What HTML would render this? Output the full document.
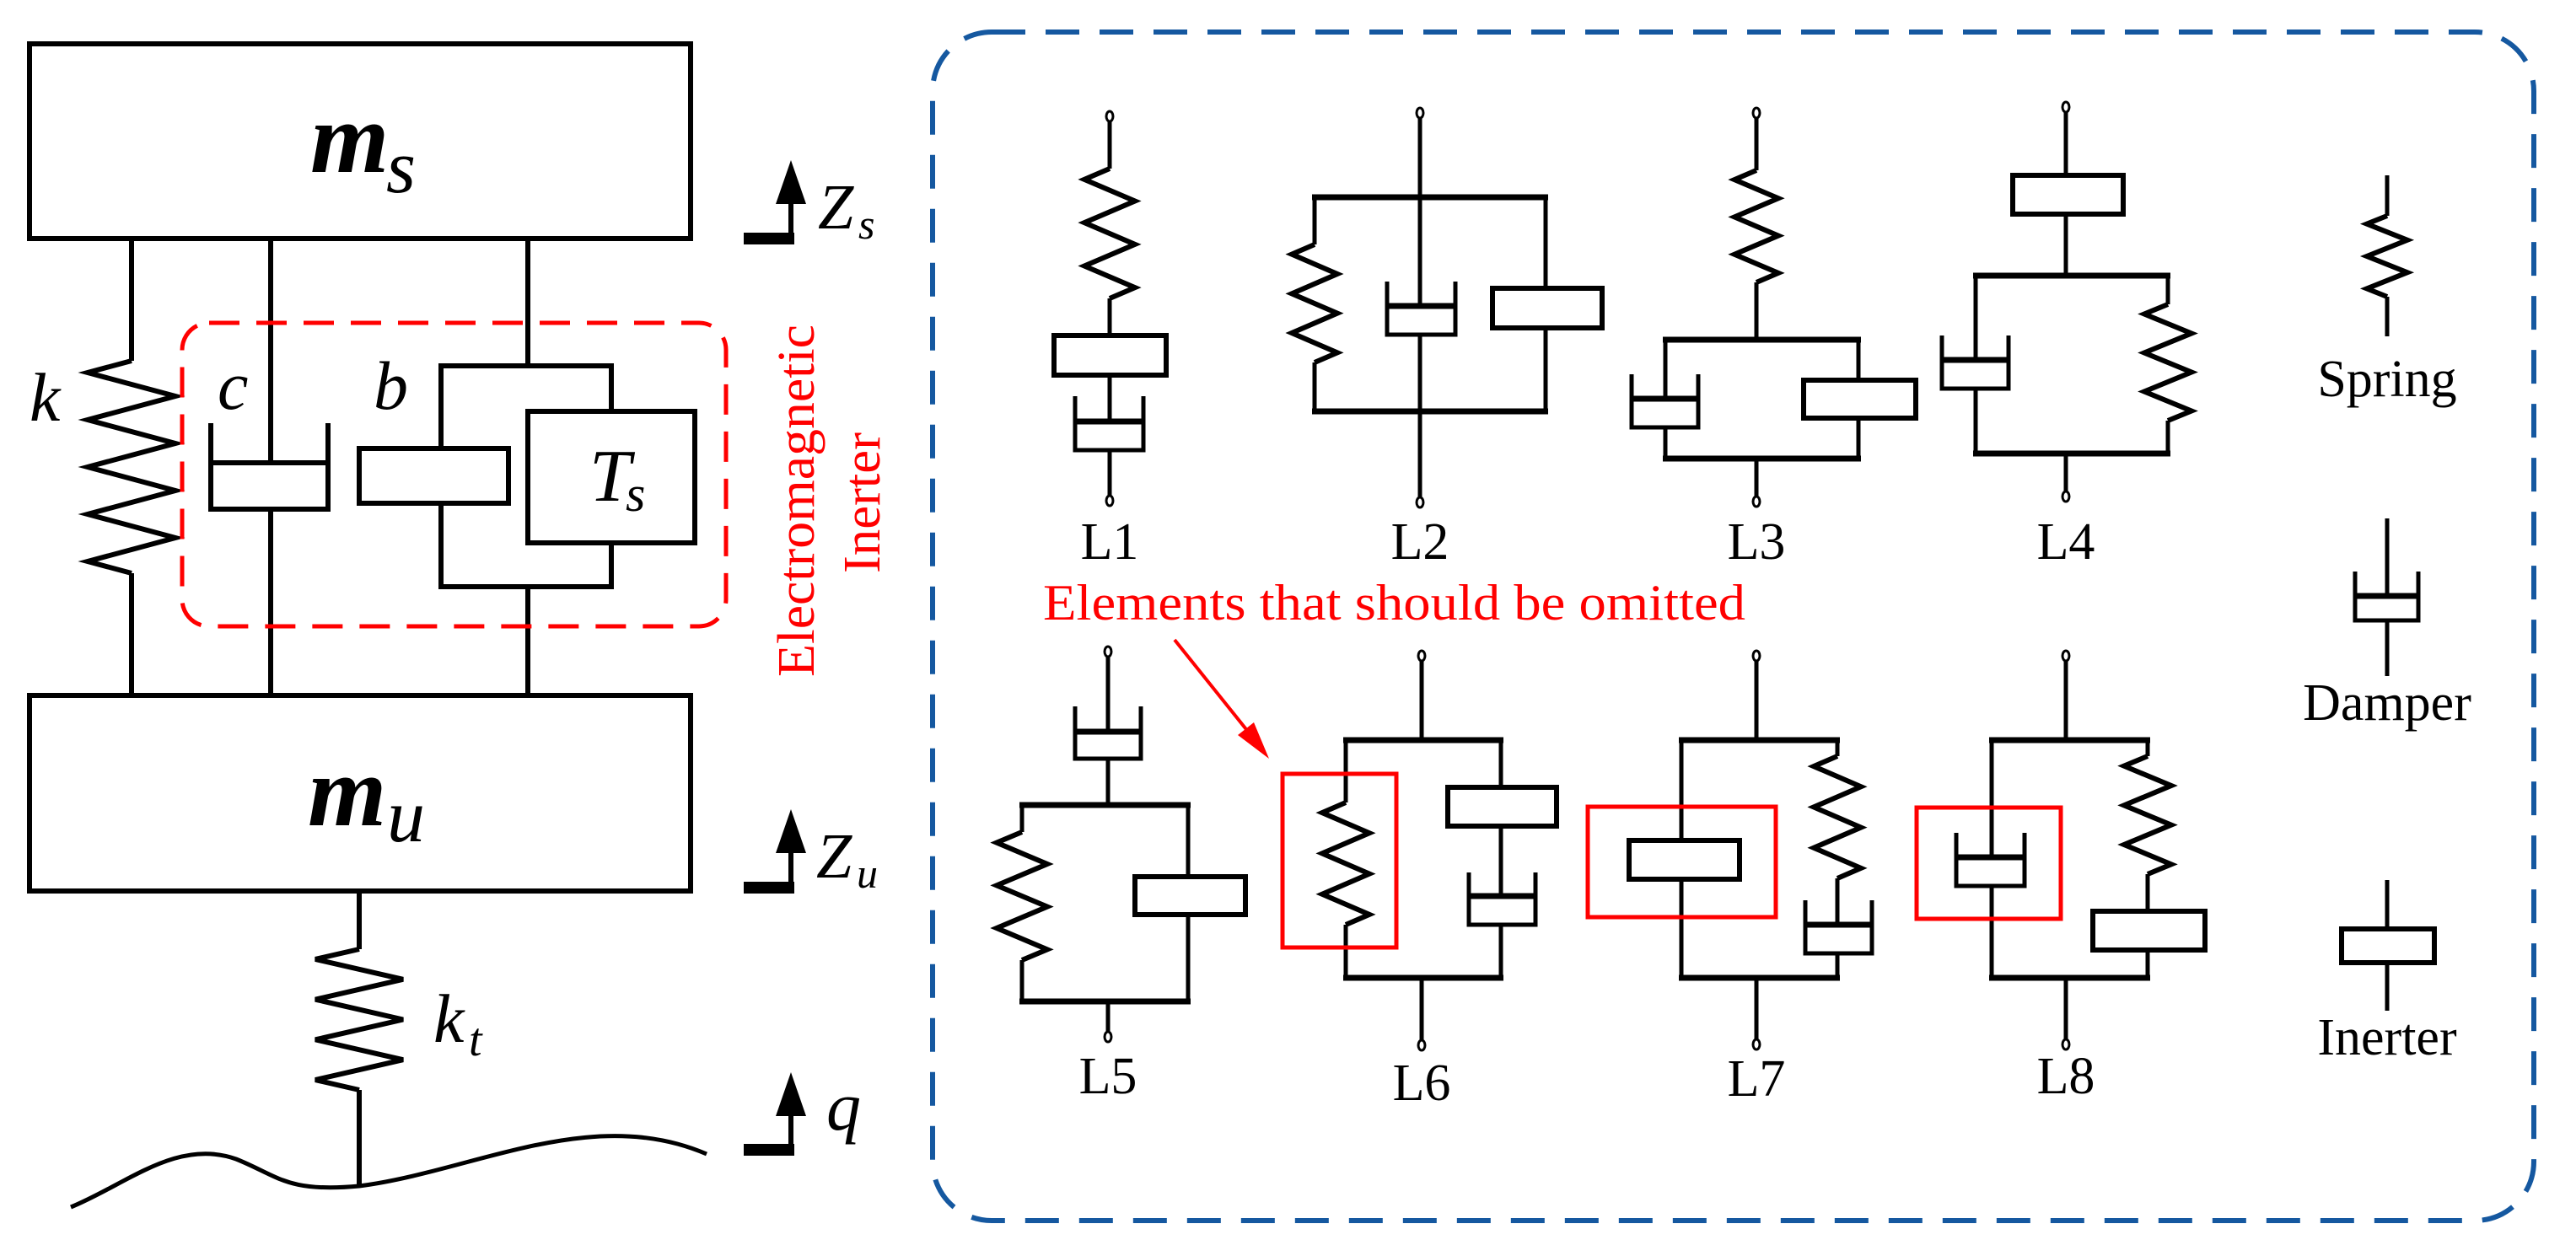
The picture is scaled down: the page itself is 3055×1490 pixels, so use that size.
<!DOCTYPE html>
<html><head><meta charset="utf-8"><style>
html,body{margin:0;padding:0;background:#fff;}
svg{display:block;}
text{font-family:"Liberation Serif",serif;}
</style></head><body>
<svg id="s" xmlns="http://www.w3.org/2000/svg" width="3055" height="1490" viewBox="0 0 3055 1490">
<rect width="3055" height="1490" fill="#fff"/>
<g id="g" fill="none" stroke="#000" stroke-width="6" stroke-linejoin="miter"></g>
<!-- left labels -->
<g font-style="italic" fill="#000">
<text x="368" y="204" font-size="120" font-weight="bold">m</text>
<text x="458" y="228" font-size="90">s</text>
<text x="365" y="979" font-size="120" font-weight="bold">m</text>
<text x="459" y="998" font-size="90">u</text>
<text x="699" y="594" font-size="88">T</text>
<text x="742" y="606" font-size="60">s</text>
<text x="35" y="499" font-size="82">k</text>
<text x="258" y="485" font-size="82">c</text>
<text x="443" y="485" font-size="82">b</text>
<text x="514" y="1236" font-size="82">k</text>
<text x="556" y="1252" font-size="56">t</text>
<text x="970" y="271" font-size="76">Z</text>
<text x="1018" y="283" font-size="50">s</text>
<text x="968" y="1041" font-size="76">Z</text>
<text x="1016" y="1053" font-size="50">u</text>
<text x="980" y="1340" font-size="82">q</text>
</g>
<g fill="#f00" font-size="62">
<text transform="translate(965,803) rotate(-90)" textLength="418" lengthAdjust="spacingAndGlyphs">Electromagnetic</text>
<text transform="translate(1043,680) rotate(-90)" textLength="167" lengthAdjust="spacingAndGlyphs">Inerter</text>
<text x="1237" y="735" font-size="60" textLength="833" lengthAdjust="spacingAndGlyphs">Elements that should be omitted</text>
</g>
<g fill="#000" font-size="62" text-anchor="middle">
<text x="1316" y="663">L1</text>
<text x="1684" y="663">L2</text>
<text x="2083" y="663">L3</text>
<text x="2450" y="663">L4</text>
<text x="1314" y="1297">L5</text>
<text x="1686" y="1305">L6</text>
<text x="2083" y="1300">L7</text>
<text x="2450" y="1297">L8</text>
<text x="2831" y="470">Spring</text>
<text x="2831" y="854">Damper</text>
<text x="2831" y="1251">Inerter</text>
</g>
</svg>
<script>
var G=document.getElementById('g');var NS='http://www.w3.org/2000/svg';
function el(t,a){var e=document.createElementNS(NS,t);for(var k in a)e.setAttribute(k,a[k]);G.appendChild(e);return e;}
function L(x1,y1,x2,y2,w,c){el('line',{x1:x1,y1:y1,x2:x2,y2:y2,'stroke-width':w||5,stroke:c||'#000'});}
function B(x1,y1,x2,y2,w){el('rect',{x:x1,y:y1,width:x2-x1,height:y2-y1,fill:'#fff','stroke-width':w||6});}
function R(x1,y1,x2,y2){el('rect',{x:x1,y:y1,width:x2-x1,height:y2-y1,fill:'none',stroke:'#f00','stroke-width':5});}
function D(x1,x2,yt,yp,yb,w){w=w||5;el('rect',{x:x1,y:yp,width:x2-x1,height:yb-yp,fill:'#fff','stroke-width':w});L(x1,yt,x1,yb,w);L(x2,yt,x2,yb,w);L(x1,yp,x2,yp,w+2);}
function S(cx,y0,y1,hw,m,w){var p='M'+cx+','+y0;for(var i=0;i<m;i++){var y=y0+(i+0.5)*(y1-y0)/m;var x=(i%2==0)?cx-hw:cx+hw;p+=' L'+x+','+y;}p+=' L'+cx+','+y1;el('path',{d:p,'stroke-width':w||6});}
function T(cx,y){el('ellipse',{cx:cx,cy:y,rx:4,ry:6,fill:'#fff','stroke-width':3});}
function F(x1,y1,x2,y2){L(x1-3,y1,x2+3,y1,7);L(x1-3,y2,x2+3,y2,7);}
// ===== left panel =====
B(35,52,819,283,6);B(35,825,819,1057,6);
L(156,283,156,428,6);S(156,428,680,52,9,6);L(156,680,156,825,6);
L(321,283,321,549,6);L(321,604,321,825,6);
el('polyline',{points:'250,502 250,604 389,604 389,502','stroke-width':6});L(250,549,389,549,6);
L(626,283,626,434,6);L(626,696,626,825,6);
el('polyline',{points:'523,532 523,434 725,434 725,488','stroke-width':6,fill:'none'});
el('polyline',{points:'523,597 523,696 725,696 725,644','stroke-width':6,fill:'none'});
B(426,532,603,597,6);B(626,488,824,644,6);
L(426,1057,426,1126,6);S(426,1126,1293,52,7,6);L(426,1293,426,1405,6);
el('path',{d:'M84,1432 C150,1405 210,1350 280,1375 C330,1395 340,1415 426,1407 C560,1390 700,1310 838,1369','stroke-width':5});
// red dashed
el('rect',{x:216,y:383,width:645,height:360,rx:32,ry:32,stroke:'#f00','stroke-width':5,'stroke-dasharray':'36 20',fill:'none'});
// arrows Z
function A(yb,tip){L(882,yb,942,yb,14);L(938,yb,938,tip+40,6);el('polygon',{points:'938,'+tip+' 920,'+(tip+52)+' 956,'+(tip+52),fill:'#000',stroke:'none'});}
A(283,190);A(1053,960);A(1364,1272);
// blue dashed box
el('rect',{x:1106,y:38,width:1899,height:1410,rx:70,ry:70,stroke:'#1558a0','stroke-width':6,'stroke-dasharray':'40 24',fill:'none'});
// ===== L1 =====
T(1316,138);L(1316,144,1316,200);S(1316,200,354,30,6);L(1316,354,1316,398);B(1250,398,1383,445);L(1316,445,1316,500);D(1275,1356,470,500,534);L(1316,534,1316,588);T(1316,594);
// ===== L2 =====
T(1684,134);L(1684,140,1684,590);F(1559,234,1833,488);
L(1559,234,1559,290);S(1559,290,430,27,6);L(1559,430,1559,488);
L(1833,234,1833,488);B(1770,342,1900,389);D(1645,1726,334,363,397);T(1684,596);
// ===== L3 =====
T(2083,134);L(2083,140,2083,202);S(2083,202,335,26,6);L(2083,335,2083,403);F(1975,403,2204,544);
L(1975,403,1975,544);D(1935,2014,444,473,507);L(2204,403,2204,544);B(2139,451,2272,496);L(2083,544,2083,589);T(2083,595);
// ===== L4 =====
T(2450,127);L(2450,133,2450,327);B(2387,208,2518,254);F(2343,327,2571,538);
L(2343,327,2343,538);D(2303,2382,398,427,461);L(2571,327,2571,361);S(2571,361,499,28,6);L(2571,499,2571,538);L(2450,538,2450,583);T(2450,589);
// legend
L(2831,208,2831,256);S(2831,256,352,24,5);L(2831,352,2831,399);
L(2831,615,2831,707);D(2793,2868,678,707,736);L(2831,736,2831,802);
L(2831,1044,2831,1199);B(2777,1102,2887,1142);
// ===== L5 =====
T(1314,773);L(1314,779,1314,868);D(1275,1353,838,868,900);L(1314,900,1314,955);F(1212,955,1409,1188);
L(1212,955,1212,987);S(1212,987,1139,30,6);L(1212,1139,1212,1188);L(1409,955,1409,1188);B(1346,1040,1477,1085);L(1314,1188,1314,1224);T(1314,1230);
// ===== L6 =====
T(1686,778);L(1686,784,1686,878);F(1596,878,1780,1160);
L(1596,878,1596,952);S(1596,952,1097,28,6);L(1596,1097,1596,1160);
L(1780,878,1780,1160);B(1717,934,1846,980);D(1742,1821,1035,1063,1097);L(1686,1160,1686,1234);T(1686,1240);
R(1521,918,1656,1124);
// ===== L7 =====
T(2083,778);L(2083,784,2083,878);F(1994,878,2179,1160);
L(1994,878,1994,1160);B(1932,997,2063,1043);
L(2179,878,2179,897);S(2179,897,1042,28,6);L(2179,1042,2179,1160);D(2141,2220,1068,1097,1131);L(2083,1160,2083,1233);T(2083,1239);
R(1883,957,2106,1088);
// ===== L8 =====
T(2450,778);L(2450,784,2450,878);F(2362,878,2547,1160);
L(2362,878,2362,1160);D(2320,2401,988,1017,1051);
L(2547,878,2547,897);S(2547,897,1037,28,6);L(2547,1037,2547,1160);B(2482,1081,2615,1127);L(2450,1160,2450,1233);T(2450,1239);
R(2273,958,2444,1090);
// red arrow
L(1393,759,1485,874,4,'#f00');el('polygon',{points:'1505,900 1468,872 1487,857',fill:'#f00',stroke:'none'});
</script>
</body></html>
